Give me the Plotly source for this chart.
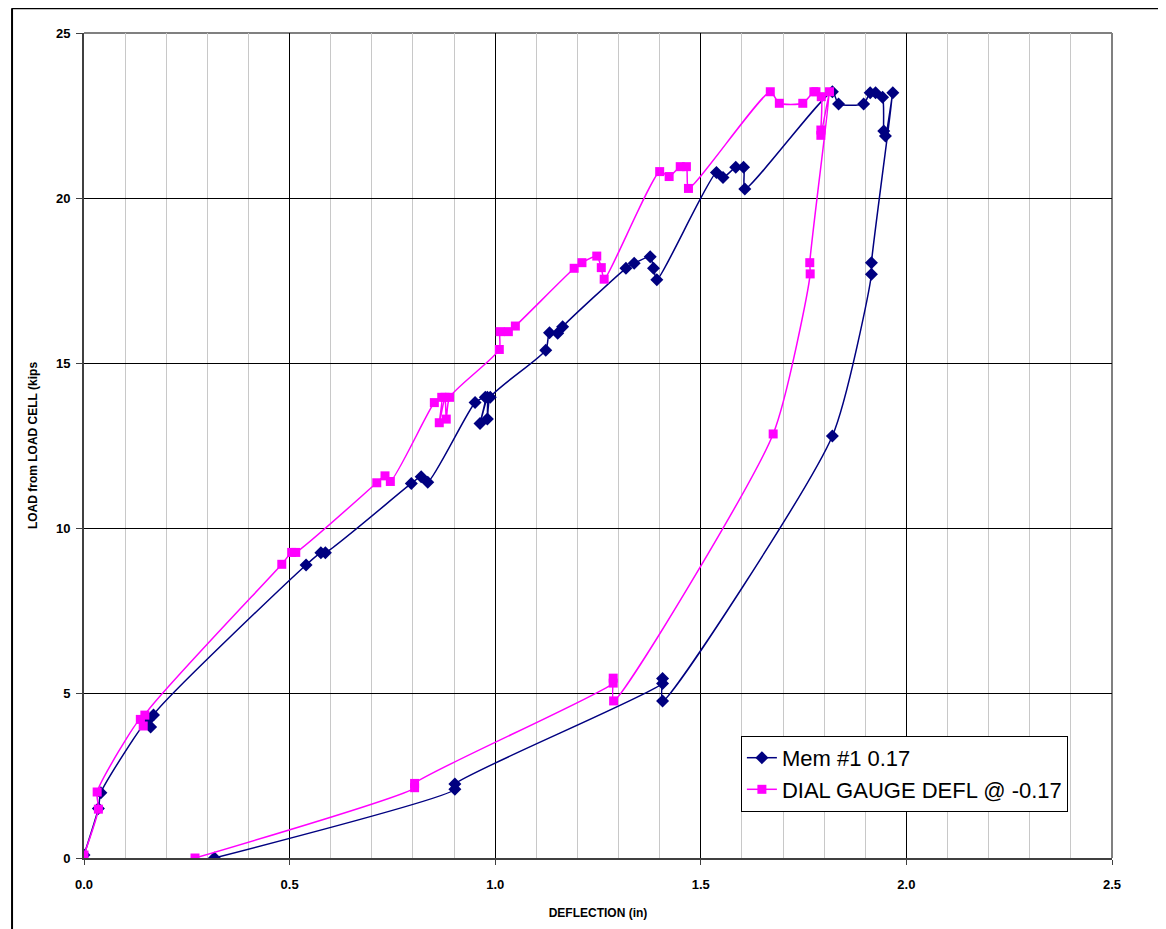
import plotly.graph_objects as go

# Mem #1 0.17 (navy diamonds)
mem_x = [0.0, 0.035, 0.041, 0.156, 0.162, 0.169, 0.54, 0.576, 0.587, 0.796, 0.82, 0.836,
         0.951, 0.976, 0.963, 0.981, 0.981, 0.988,
         1.123, 1.132, 1.152, 1.164, 1.318, 1.338, 1.377, 1.385, 1.393,
         1.538, 1.554, 1.585, 1.604, 1.607,
         1.82, 1.835, 1.896, 1.912, 1.925, 1.942, 1.945, 1.949, 1.967,
         1.915, 1.915, 1.82, 1.407, 1.407, 1.407, 0.902, 0.902, 0.317]
mem_y = [0.09, 1.5, 1.98, 4.18, 3.97, 4.33, 8.88, 9.25, 9.25, 11.35, 11.55, 11.39,
         13.8, 13.96, 13.17, 13.96, 13.3, 13.96,
         15.39, 15.92, 15.9, 16.1, 17.87, 18.02, 18.22, 17.87, 17.52,
         20.77, 20.62, 20.93, 20.93, 20.27,
         23.22, 22.85, 22.85, 23.19, 23.19, 23.05, 22.03, 21.88, 23.19,
         18.04, 17.69, 12.79, 4.76, 5.44, 5.29, 2.24, 2.08, 0.0]

# DIAL GAUGE DEFL @ -0.17 (magenta squares)
dial_x = [0.0, 0.035, 0.032, 0.137, 0.144, 0.148, 0.481, 0.505, 0.515, 0.712, 0.732, 0.745,
          0.852, 0.87, 0.864, 0.878, 0.881, 0.889,
          1.01, 1.012, 1.032, 1.049, 1.192, 1.211, 1.247, 1.258, 1.265,
          1.4, 1.423, 1.45, 1.465, 1.47,
          1.669, 1.691, 1.748, 1.775, 1.78, 1.793, 1.792, 1.792, 1.813,
          1.765, 1.766, 1.676, 1.288, 1.287, 1.287, 0.804, 0.804, 0.27]
dial_y = [0.09, 1.48, 2.0, 4.2, 4.0, 4.33, 8.9, 9.26, 9.26, 11.37, 11.58, 11.41,
          13.8, 13.96, 13.19, 13.96, 13.3, 13.96,
          15.41, 15.95, 15.95, 16.12, 17.87, 18.04, 18.24, 17.89, 17.54,
          20.8, 20.65, 20.95, 20.95, 20.29,
          23.22, 22.87, 22.87, 23.22, 23.22, 23.07, 22.06, 21.9, 23.22,
          18.04, 17.7, 12.85, 4.76, 5.45, 5.3, 2.26, 2.13, 0.0]

x_ticks = [0.0, 0.5, 1.0, 1.5, 2.0, 2.5]
x_tick_text = ["0.0", "0.5", "1.0", "1.5", "2.0", "2.5"]
y_ticks = [0, 5, 10, 15, 20, 25]

NAVY = "#000080"
MAGENTA = "#FF00FF"

fig = go.Figure()
fig.add_trace(go.Scatter(
    x=mem_x, y=mem_y, mode="lines+markers", name="Mem #1 0.17",
    line=dict(color=NAVY, width=1.5, shape="spline", smoothing=0.6),
    marker=dict(symbol="diamond", size=10, color=NAVY),
))
fig.add_trace(go.Scatter(
    x=dial_x, y=dial_y, mode="lines+markers", name="DIAL GAUGE DEFL @ -0.17",
    line=dict(color=MAGENTA, width=1.5, shape="spline", smoothing=0.6),
    marker=dict(symbol="square", size=9, color=MAGENTA),
))

fig.update_layout(
    width=1166, height=929,
    margin=dict(l=76, r=62, t=25, b=79),
    paper_bgcolor="white", plot_bgcolor="white",
    font=dict(family="Arial, Liberation Sans, sans-serif", color="black"),
    showlegend=True,
    legend=dict(
        x=0.639, y=0.148, xanchor="left", yanchor="top",
        bgcolor="white", bordercolor="black", borderwidth=1,
        font=dict(size=22, family="Arial, Liberation Sans, sans-serif", color="black"),
        tracegroupgap=0,
    ),
    xaxis=dict(
        range=[0, 2.5], tickvals=x_ticks, ticktext=x_tick_text,
        showgrid=True, gridcolor="black", gridwidth=1,
        minor=dict(dtick=0.1, showgrid=True, gridcolor="#c8c8c8", gridwidth=1),
        showline=True, linecolor="#404040", linewidth=2,
        ticks="outside", ticklen=5, tickcolor="#404040",
        ticklabelstandoff=8,
        tickfont=dict(size=13, family="Arial, Liberation Sans, sans-serif", weight="bold"),
        zeroline=False,
        title=dict(text="<b>DEFLECTION (in)</b>", font=dict(size=12), standoff=18),
    ),
    yaxis=dict(
        range=[0, 25], tickvals=y_ticks,
        showgrid=True, gridcolor="black", gridwidth=1,
        showline=True, linecolor="#404040", linewidth=2,
        ticks="outside", ticklen=6, tickcolor="#404040",
        ticklabelstandoff=3,
        tickfont=dict(size=13, family="Arial, Liberation Sans, sans-serif", weight="bold"),
        zeroline=False,
        title=dict(text="<b>LOAD from LOAD CELL (kips</b>", font=dict(size=12), standoff=16),
    ),
    shapes=[
        dict(type="line", xref="paper", yref="paper", x0=0, x1=1, y0=1, y1=1,
             line=dict(color="#808080", width=2), layer="between"),
        dict(type="line", xref="paper", yref="paper", x0=1, x1=1, y0=0, y1=1,
             line=dict(color="#808080", width=2), layer="between"),
        dict(type="line", xref="paper", yref="paper", x0=-0.07, x1=1.1, y0=1.03, y1=1.03,
             line=dict(color="black", width=2), layer="below"),
        dict(type="line", xref="paper", yref="paper", x0=-0.07, x1=-0.07, y0=-0.3, y1=1.03,
             line=dict(color="black", width=2), layer="below"),
    ],
)

fig.write_html("out.html")
